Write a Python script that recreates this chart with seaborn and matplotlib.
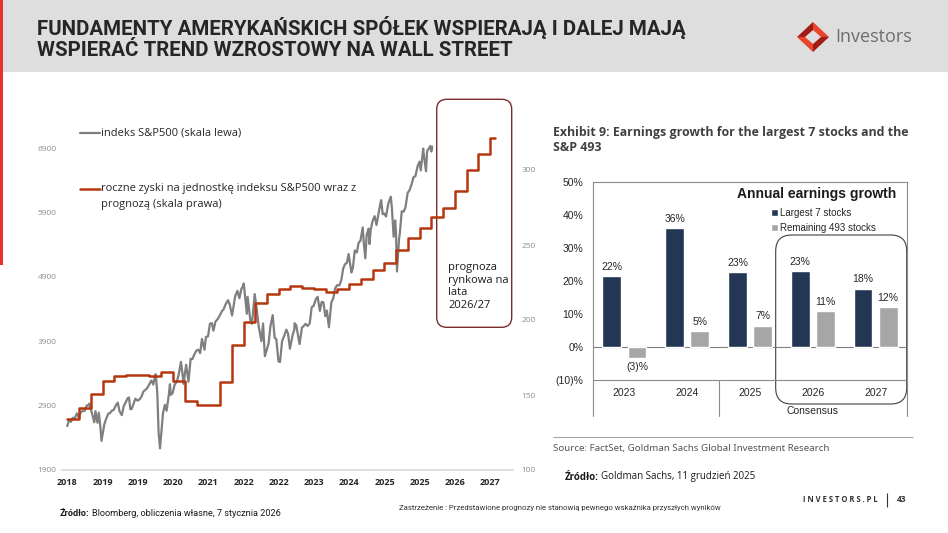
import matplotlib.dates as mdates
import matplotlib.pyplot as plt
import pandas as pd
import seaborn as sns
from matplotlib.patches import FancyBboxPatch, Polygon, Rectangle

OUT_IMAGE = "out.png"

# S&P500 index level (left scale)
SPX_DATES = [
    "2018-04-02", "2018-04-16", "2018-04-30", "2018-05-15", "2018-05-31", "2018-06-15",
    "2018-06-29", "2018-07-16", "2018-07-31", "2018-08-15", "2018-08-31", "2018-09-14",
    "2018-09-20", "2018-10-15", "2018-10-29", "2018-11-07", "2018-11-23", "2018-12-03",
    "2018-12-14", "2018-12-24", "2019-01-15", "2019-01-31", "2019-02-15", "2019-02-28",
    "2019-03-15", "2019-03-29", "2019-04-15", "2019-04-30", "2019-05-13", "2019-05-31",
    "2019-06-14", "2019-06-28", "2019-07-15", "2019-07-26", "2019-08-05", "2019-08-15",
    "2019-08-30", "2019-09-13", "2019-09-30", "2019-10-15", "2019-10-31", "2019-11-15",
    "2019-11-29", "2019-12-13", "2019-12-31", "2020-01-15", "2020-01-31", "2020-02-14",
    "2020-02-19", "2020-03-02", "2020-03-12", "2020-03-23", "2020-04-15", "2020-04-30",
    "2020-05-13", "2020-05-29", "2020-06-08", "2020-06-15", "2020-06-30", "2020-07-15",
    "2020-07-31", "2020-08-14", "2020-09-02", "2020-09-23", "2020-10-01", "2020-10-12",
    "2020-10-30", "2020-11-16", "2020-11-30", "2020-12-15", "2020-12-31", "2021-01-15",
    "2021-01-29", "2021-02-12", "2021-03-04", "2021-03-15", "2021-03-31", "2021-04-15",
    "2021-04-30", "2021-05-12", "2021-05-28", "2021-06-15", "2021-06-30", "2021-07-15",
    "2021-07-30", "2021-08-16", "2021-08-31", "2021-09-02", "2021-09-15", "2021-10-04",
    "2021-10-29", "2021-11-15", "2021-11-30", "2021-12-15", "2021-12-31", "2022-01-03",
    "2022-01-27", "2022-02-02", "2022-02-23", "2022-03-08", "2022-03-29", "2022-04-14",
    "2022-04-29", "2022-05-20", "2022-05-31", "2022-06-02", "2022-06-16", "2022-07-15",
    "2022-07-29", "2022-08-16", "2022-08-31", "2022-09-13", "2022-09-30", "2022-10-12",
    "2022-10-28", "2022-11-15", "2022-11-30", "2022-12-01", "2022-12-13", "2022-12-28",
    "2023-01-17", "2023-01-31", "2023-02-02", "2023-02-15", "2023-03-13", "2023-03-31",
    "2023-04-14", "2023-04-28", "2023-05-15", "2023-05-31", "2023-06-15", "2023-06-30",
    "2023-07-18", "2023-07-31", "2023-08-18", "2023-08-31", "2023-09-14", "2023-09-29",
    "2023-10-11", "2023-10-27", "2023-11-15", "2023-11-30", "2023-12-14", "2023-12-29",
    "2024-01-16", "2024-01-31", "2024-02-15", "2024-02-29", "2024-03-15", "2024-03-28",
    "2024-04-19", "2024-04-30", "2024-05-15", "2024-05-31", "2024-06-14", "2024-06-28",
    "2024-07-16", "2024-07-24", "2024-08-05", "2024-08-15", "2024-08-30", "2024-09-06",
    "2024-09-16", "2024-09-30", "2024-10-16", "2024-10-31", "2024-11-15", "2024-11-29",
    "2024-12-06", "2024-12-18", "2024-12-31", "2025-01-13", "2025-01-31", "2025-02-19",
    "2025-02-28", "2025-03-13", "2025-03-25", "2025-03-31", "2025-04-08", "2025-04-24",
    "2025-04-30", "2025-05-15", "2025-05-30", "2025-06-13", "2025-06-30", "2025-07-15",
    "2025-07-31", "2025-08-15", "2025-08-29", "2025-09-15", "2025-09-30", "2025-10-10",
    "2025-10-29", "2025-10-31", "2025-11-20", "2025-11-28", "2025-12-10", "2025-12-24",
    "2025-12-31", "2026-01-07",
]
SPX_VALUES = [
    2582, 2678, 2648, 2711, 2705, 2780,
    2718, 2798, 2816, 2819, 2902, 2905,
    2931, 2750, 2641, 2814, 2633, 2790,
    2600, 2351, 2610, 2704, 2775, 2784,
    2822, 2834, 2905, 2946, 2812, 2752,
    2887, 2942, 3014, 3026, 2845, 2847,
    2926, 3007, 2977, 2995, 3038, 3120,
    3141, 3168, 3231, 3289, 3226, 3380,
    3386, 3090, 2481, 2237, 2783, 2912,
    2820, 3044, 3232, 3066, 3100, 3227,
    3271, 3372, 3580, 3237, 3380, 3534,
    3270, 3627, 3622, 3695, 3756, 3768,
    3714, 3934, 3768, 3968, 3973, 4170,
    4181, 4063, 4204, 4246, 4298, 4360,
    4395, 4479, 4523, 4537, 4480, 4300,
    4605, 4683, 4567, 4709, 4766, 4796,
    4326, 4589, 4225, 4170, 4632, 4392,
    4132, 3901, 4132, 4176, 3667, 3863,
    4130, 4305, 3955, 3932, 3586, 3577,
    3901, 3992, 4080, 4076, 4019, 3783,
    3990, 4077, 4180, 4147, 3855, 4109,
    4137, 4169, 4136, 4180, 4426, 4450,
    4555, 4589, 4370, 4508, 4505, 4288,
    4376, 4117, 4502, 4568, 4719, 4770,
    4766, 4846, 5029, 5096, 5117, 5254,
    4967, 5036, 5308, 5278, 5431, 5460,
    5667, 5427, 5186, 5543, 5648, 5408,
    5633, 5762, 5842, 5705, 5870, 6032,
    6090, 5872, 5882, 5836, 6041, 6144,
    5955, 5522, 5776, 5612, 4982, 5484,
    5569, 5917, 5912, 5977, 6205, 6244,
    6339, 6450, 6460, 6615, 6688, 6552,
    6891, 6840, 6538, 6849, 6886, 6932,
    6845, 6921,
]

# trailing 12M earnings per index unit with forecast (right scale)
EPS_DATES = [
    "2018-04-01", "2018-07-01", "2018-10-01", "2019-01-01", "2019-04-01",
    "2019-07-01", "2019-10-01", "2020-01-01", "2020-04-01", "2020-07-01",
    "2020-10-01", "2021-01-01", "2021-04-01", "2021-07-01", "2021-10-01",
    "2022-01-01", "2022-04-01", "2022-07-01", "2022-10-01", "2023-01-01",
    "2023-04-01", "2023-07-01", "2023-10-01", "2024-01-01", "2024-04-01",
    "2024-07-01", "2024-10-01", "2025-01-01", "2025-04-01", "2025-07-01",
    "2025-10-01", "2026-01-01", "2026-04-01", "2026-07-01", "2026-10-01",
    "2027-01-01", "2027-04-01", "2027-05-10",
]
EPS_VALUES = [
    133.8, 141.5, 150.5, 159.3, 162.4,
    163.6, 163.2, 162.4, 165.1, 159.1,
    145.8, 143.1, 143.3, 158.4, 183.6,
    198.7, 211.6, 217.1, 220.7, 222.9,
    221.5, 220.4, 218.5, 220.7, 223.8,
    227.1, 233.1, 238.2, 246.7, 254.4,
    261.6, 268.9, 274.4, 286.0, 300.0,
    310.4, 321.1, 321.1,
]

# x ticks every 9 months, shown as year only
X_TICKS = [
    "2018-04-01", "2019-01-01", "2019-10-01", "2020-07-01", "2021-04-01",
    "2022-01-01", "2022-10-01", "2023-07-01", "2024-04-01", "2025-01-01",
    "2025-10-01", "2026-07-01", "2027-04-01",
]
LEFT_TICKS = [1900, 2900, 3900, 4900, 5900, 6900]
RIGHT_TICKS = [100, 150, 200, 250, 300]

# Goldman Sachs exhibit: annual earnings growth, %
YEARS = ["2023", "2024", "2025", "2026", "2027"]
TOP7_GROWTH = [21.6, 36.0, 22.6, 23.0, 17.7]
REST_GROWTH = [-3.2, 4.7, 6.5, 11.0, 12.1]
TOP7_LABELS = ["22%", "36%", "23%", "23%", "18%"]
REST_LABELS = ["(3)%", "5%", "7%", "11%", "12%"]
GROUPS = ["Largest 7 stocks", "Remaining 493 stocks"]
BAR_TICKS = [-10, 0, 10, 20, 30, 40, 50]
BAR_TICK_LABELS = ["(10)%", "0%", "10%", "20%", "30%", "40%", "50%"]

GREY_LINE = "#7F7F7F"
RED_LINE = "#B5370F"
NAVY = "#1B365D"
BAR_GREY = "#A6A6A6"
ARIAL = ["Liberation Sans", "DejaVu Sans"]
NARROW = ["Roboto", "DejaVu Sans"]

sns.set_theme(style="white")
plt.rcParams["font.family"] = ["Open Sans", "DejaVu Sans"]

fig = plt.figure(figsize=(9.48, 5.33), dpi=100)

# Background layer in pixel coordinates (header, boxes, footer texts)
bg = fig.add_axes([0, 0, 1, 1])
bg.set_xlim(0, 948)
bg.set_ylim(533, 0)
bg.axis("off")
bg.add_patch(Rectangle((0, 0), 948, 72, color="#DEDEDE", lw=0))
bg.add_patch(Rectangle((0, 0), 3.5, 265, color="#E8322B", lw=0))
bg.text(37, 38, "FUNDAMENTY AMERYKAŃSKICH SPÓŁEK WSPIERAJĄ I DALEJ MAJĄ\n"
        "WSPIERAĆ TREND WZROSTOWY NA WALL STREET",
        family=NARROW, fontsize=14.8, fontweight="bold", color="#262626",
        va="center", linespacing=1.1)

# Logo
logo_pieces = [
    ([(813, 22), (829, 37), (821, 37), (813, 30)], "#E8452C"),
    ([(829, 37), (813, 52), (813, 44), (821, 37)], "#A31B17"),
    ([(813, 52), (797, 37), (805, 37), (813, 44)], "#E8452C"),
    ([(797, 37), (813, 22), (813, 30), (805, 37)], "#A31B17"),
]
for points, colour in logo_pieces:
    bg.add_patch(Polygon(points, closed=True, color=colour, lw=0))
bg.text(835, 37, "Investors", fontsize=13, color="#6E6E6E", va="center")

# Left chart: S&P500 and earnings
ax = fig.add_axes([62 / 948, 63 / 533, 451 / 948, 375 / 533])
ax.patch.set_alpha(0)
sns.lineplot(x=pd.to_datetime(SPX_DATES), y=SPX_VALUES, ax=ax,
             color=GREY_LINE, lw=1.6)
ax2 = ax.twinx()
sns.lineplot(x=pd.to_datetime(EPS_DATES), y=EPS_VALUES, ax=ax2,
             color=RED_LINE, lw=1.8, drawstyle="steps-post")

ax.set_xlim(pd.Timestamp("2018-02-20"), pd.Timestamp("2027-09-27"))
ax.set_xticks(pd.to_datetime(X_TICKS))
ax.xaxis.set_major_formatter(mdates.DateFormatter("%Y"))
ax.set_ylim(1900, 7723)
ax.set_yticks(LEFT_TICKS)
ax2.set_ylim(100, 350)
ax2.set_yticks(RIGHT_TICKS)
for a in (ax, ax2):
    a.set_xlabel("")
    a.set_ylabel("")
    for side in ("top", "left", "right"):
        a.spines[side].set_visible(False)
ax.spines["bottom"].set_color("#D9D9D9")
ax2.spines["bottom"].set_visible(False)
ax.tick_params(axis="x", length=3, color="#D9D9D9", pad=3,
               labelsize=6.5, labelcolor="#262626")
for label in ax.get_xticklabels():
    label.set_fontweight("bold")
ax.tick_params(axis="y", length=0, pad=4, labelsize=6, labelcolor="#8C8C8C")
ax2.tick_params(axis="y", length=0, pad=6, labelsize=6, labelcolor="#8C8C8C")

# Legend of the left chart
bg.plot([80, 100], [133, 133], color=GREY_LINE, lw=1.6)
bg.text(101, 133, "indeks S&P500 (skala lewa)", fontsize=8, va="center",
        color="#262626")
bg.plot([80, 100], [189, 189], color=RED_LINE, lw=1.8)
bg.text(101, 189, "roczne zyski na jednostkę indeksu S&P500 wraz z",
        fontsize=8, va="center", color="#262626")
bg.text(101, 205, "prognozą (skala prawa)", fontsize=8, va="center",
        color="#262626")

# Forecast box
bg.add_patch(FancyBboxPatch((436.7, 99.3), 75, 228,
                            boxstyle="round,pad=0,rounding_size=10",
                            fill=False, ec="#7B2C2C", lw=1))
bg.text(448, 262, "prognoza\nrynkowa na\nlata\n2026/27", fontsize=8,
        va="top", color="#1A1A1A", linespacing=1.2)

# Right chart: Goldman Sachs exhibit
bg.text(553, 140, "Exhibit 9: Earnings growth for the largest 7 stocks and the\n"
        "S&P 493", fontsize=8.9, fontweight="bold", color="#404040",
        va="center", linespacing=1.15)

bar_df = pd.DataFrame({
    "year": YEARS + YEARS,
    "growth": TOP7_GROWTH + REST_GROWTH,
    "group": [GROUPS[0]] * len(YEARS) + [GROUPS[1]] * len(YEARS),
})
ax3 = fig.add_axes([593 / 948, 153 / 533, 314 / 948, 198 / 533])
ax3.patch.set_alpha(0)
sns.barplot(data=bar_df, x="year", y="growth", hue="group",
            palette=[NAVY, BAR_GREY], width=0.8, gap=0.25, ax=ax3)
ax3.set_xlim(-0.5, 4.5)
ax3.set_ylim(-10, 50)
ax3.set_yticks(BAR_TICKS)
ax3.set_yticklabels(BAR_TICK_LABELS)
ax3.set_xlabel("")
ax3.set_ylabel("")
ax3.axhline(0, color="#7F7F7F", lw=0.8, zorder=0)
for spine in ax3.spines.values():
    spine.set_color("#8C8C8C")
    spine.set_linewidth(0.8)
for x in (-0.5, 1.5, 4.5):
    ax3.axvline(x, ymin=-0.18, ymax=0, color="#8C8C8C", lw=0.8,
                clip_on=False)
ax3.tick_params(length=0, labelsize=7.5, labelcolor="#262626")
ax3.tick_params(axis="y", pad=7)
ax3.tick_params(axis="x", pad=6)
for label in ax3.get_xticklabels() + ax3.get_yticklabels():
    label.set_family(ARIAL)
for container, labels in zip(ax3.containers, [TOP7_LABELS, REST_LABELS]):
    ax3.bar_label(container, labels=labels, padding=3, fontsize=7.5,
                  family=ARIAL, color="#262626")
handles, labels = ax3.get_legend_handles_labels()
ax3.legend(handles, labels, loc="upper left", bbox_to_anchor=(0.555, 0.89),
           frameon=False, handlelength=0.7, handleheight=0.7,
           handletextpad=0.2, labelspacing=0.55, borderaxespad=0,
           prop={"family": ARIAL, "size": 7})
ax3.text(0.713, 0.94, "Annual earnings growth", transform=ax3.transAxes,
         ha="center", va="center", fontsize=10, fontweight="bold",
         family=ARIAL, color="#1A1A1A")
ax3.text(3, -0.155, "Consensus", transform=ax3.get_xaxis_transform(),
         ha="center", va="center", fontsize=7.5, family=ARIAL,
         color="#262626")

# Consensus box and source line
bg.add_patch(FancyBboxPatch((775.7, 235), 131, 169,
                            boxstyle="round,pad=0,rounding_size=16",
                            fill=False, ec="#404040", lw=0.8))
bg.hlines(437, 553, 913, color="#A6A6A6", lw=0.8)
bg.text(553, 449, "Source: FactSet, Goldman Sachs Global Investment Research",
        family=["Noto Sans", "DejaVu Sans"], fontsize=7, color="#555555",
        va="center")

# Sources and footer
src_gs = bg.text(565, 477, "Źródło:", fontsize=7, fontweight="bold",
                 va="center", color="#1A1A1A")
bg.annotate("Goldman Sachs, 11 grudzień 2025", xy=(1, 0), xycoords=src_gs,
            xytext=(1.8, 0), textcoords="offset points",
            va="bottom", fontsize=7, color="#1A1A1A")
src_bb = bg.text(60, 514, "Źródło:", fontsize=6.6, fontweight="bold",
                 va="center", color="#1A1A1A", family=NARROW)
bg.annotate("Bloomberg, obliczenia własne, 7 stycznia 2026", xy=(1, 0),
            xycoords=src_bb, xytext=(1.8, 0), textcoords="offset points",
            va="bottom", fontsize=6.6, color="#1A1A1A", family=NARROW)
bg.text(560, 508, "Zastrzeżenie : Przedstawione prognozy nie stanowią pewnego "
        "wskaźnika przyszłych wyników", ha="center", va="center",
        fontsize=5.6, color="#333333", family=NARROW)
bg.text(878, 500, "I N V E S T O R S . P L", ha="right", va="center",
        fontsize=5.5, fontweight="bold", color="#333333")
bg.vlines(887, 493, 507, color="#333333", lw=0.8)
bg.text(897, 500, "43", va="center", fontsize=6, fontweight="bold",
        color="#333333")

fig.savefig(OUT_IMAGE, dpi=100)
print("[+] The chart was saved.")
